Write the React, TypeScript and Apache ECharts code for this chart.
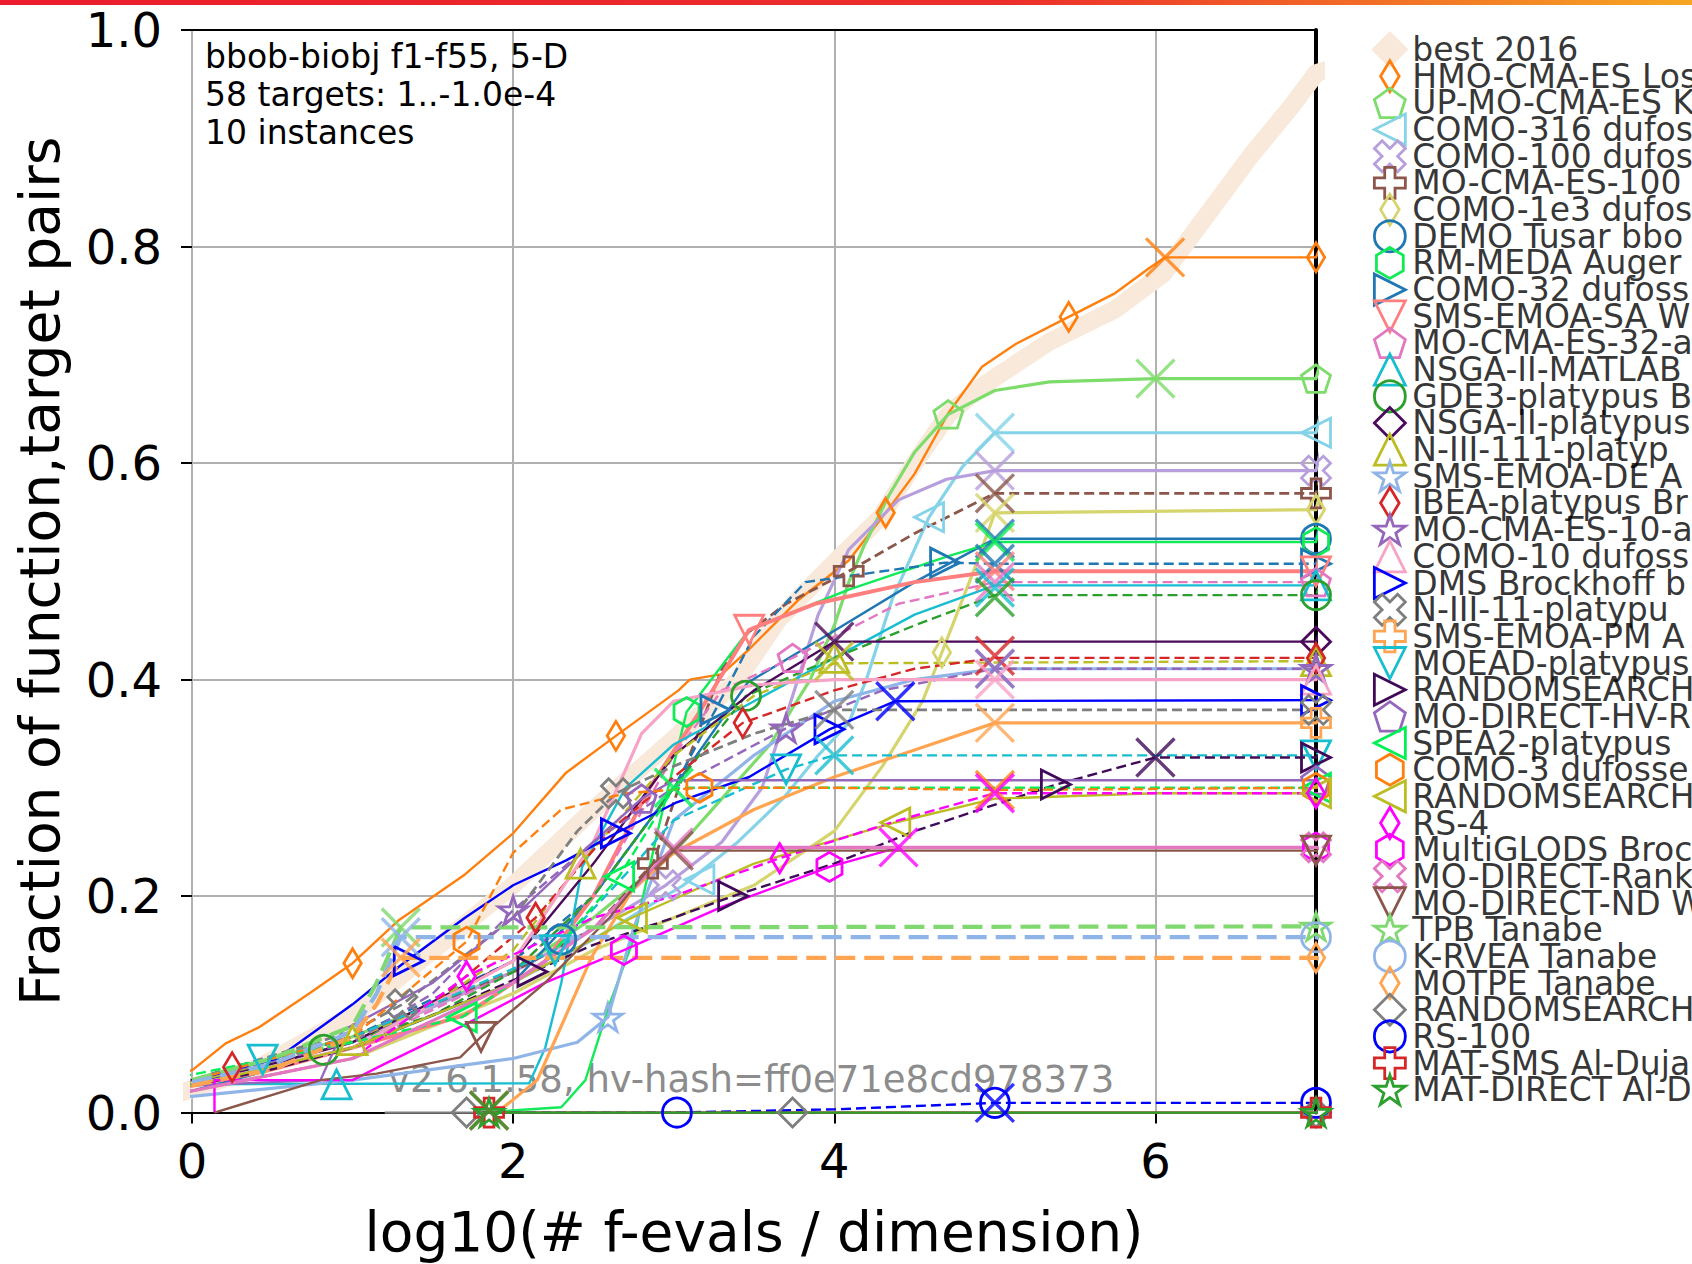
import React, { useEffect, useRef } from "react";
import * as echarts from "echarts";

const W = 1692;
const H = 1264;
const PLOT_L = 192;
const PLOT_R = 1316;
const PLOT_T = 30;
const PLOT_B = 1112.6;
const LEG_X = 7.46;
const LEG_Y0 = 49.6;
const LEG_DY = 26.67;
const FONT = "DejaVu Sans";

const xTicks = [0, 2, 4, 6];

const names = [
  "best 2016", "HMO-CMA-ES Los", "UP-MO-CMA-ES K", "COMO-316 dufos", "COMO-100 dufos",
  "MO-CMA-ES-100", "COMO-1e3 dufos", "DEMO Tusar bbo", "RM-MEDA Auger", "COMO-32 dufoss",
  "SMS-EMOA-SA W", "MO-CMA-ES-32-a", "NSGA-II-MATLAB", "GDE3-platypus B", "NSGA-II-platypus",
  "N-III-111-platyp", "SMS-EMOA-DE A", "IBEA-platypus Br", "MO-CMA-ES-10-a", "COMO-10 dufoss",
  "DMS Brockhoff b", "N-III-11-platypu", "SMS-EMOA-PM A", "MOEAD-platypus", "RANDOMSEARCH",
  "MO-DIRECT-HV-R", "SPEA2-platypus", "COMO-3 dufosse", "RANDOMSEARCH", "RS-4",
  "MultiGLODS Broc", "MO-DIRECT-Rank", "MO-DIRECT-ND W", "TPB Tanabe", "K-RVEA Tanabe",
  "MOTPE Tanabe", "RANDOMSEARCH", "RS-100", "MAT-SMS Al-Duja", "MAT-DIRECT Al-D",
];

// ---------- data (x = log10(#f-evals/dim), y = fraction) ----------
const best2016 = [[-0.75,0.0],[-0.2,0.012],[0.42,0.042],[1.0,0.09],[1.5,0.15],[2.0,0.21],[2.5,0.28],[3.0,0.345],[3.4,0.4],[3.65,0.455],[3.98,0.505],[4.29,0.55],[4.5,0.6],[4.71,0.645],[4.92,0.671],[5.34,0.712],[5.75,0.742],[6.05,0.775],[6.3,0.825],[6.6,0.885],[6.85,0.93],[7.0,0.96]];
const hmo = [[-0.72,0.029],[-0.45,0.029],[-0.45,0.034],[0,0.039],[0.21,0.064],[0.42,0.079],[0.73,0.11],[1.0,0.138],[1.29,0.178],[1.7,0.22],[2.0,0.258],[2.33,0.314],[2.64,0.348],[3.03,0.39],[3.1,0.4],[3.3,0.405],[3.47,0.428],[3.78,0.474],[4.09,0.51],[4.32,0.554],[4.5,0.59],[4.71,0.646],[4.92,0.689],[5.13,0.71],[5.46,0.735],[5.75,0.757],[5.96,0.78],[6.06,0.79],[7.0,0.79]];
const hmoMarks = [[1.0,0.138],[2.64,0.348],[4.32,0.554],[5.46,0.735],[7.0,0.79]];
const upmo = [[-0.72,0.025],[0,0.03],[1,0.07],[2,0.13],[2.5,0.18],[3,0.24],[3.3,0.29],[3.6,0.34],[3.85,0.4],[4.0,0.45],[4.09,0.49],[4.19,0.525],[4.34,0.57],[4.5,0.61],[4.71,0.645],[5.0,0.667],[5.34,0.675],[6.0,0.678],[7,0.678]];
const upmoMarks = [[4.71,0.645],[7,0.678]];
const como316 = [[-0.72,0.02],[0,0.025],[1,0.06],[2,0.12],[2.5,0.16],[3.06,0.21],[3.4,0.25],[3.68,0.29],[3.9,0.33],[4.09,0.36],[4.2,0.4],[4.36,0.474],[4.59,0.55],[4.8,0.597],[5.0,0.628],[7,0.628]];
const como316Marks = [[3.16,0.215],[4.59,0.55],[7,0.628]];
const como100 = [[-0.72,0.02],[0,0.025],[1,0.065],[2,0.13],[2.5,0.17],[2.95,0.21],[3.3,0.25],[3.55,0.3],[3.73,0.38],[3.9,0.46],[4.09,0.52],[4.4,0.566],[4.7,0.585],[5.0,0.593],[7,0.593]];
const como100Marks = [[2.95,0.21],[7,0.593]];
const mocma100 = [[-0.72,0.02],[0,0.028],[1,0.07],[2,0.13],[2.5,0.17],[2.87,0.23],[3.1,0.33],[3.3,0.41],[3.46,0.443],[3.7,0.47],[4.09,0.5],[4.5,0.535],[5.0,0.572],[7,0.572]];
const mocma100Marks = [[2.87,0.23],[4.09,0.5],[7,0.572]];
const como1e3 = [[-0.72,0.015],[0,0.02],[1,0.05],[2,0.11],[2.5,0.15],[3,0.18],[3.5,0.21],[4.0,0.26],[4.3,0.32],[4.55,0.38],[4.67,0.425],[4.88,0.505],[5.0,0.554],[7,0.557]];
const como1e3Marks = [[4.67,0.425],[7,0.557]];
const demo = [[-0.72,0.002],[-0.4,0.002],[-0.4,0.012],[0,0.02],[1,0.06],[2,0.12],[2.5,0.2],[3,0.3],[3.46,0.397],[4.0,0.445],[4.5,0.49],[5.0,0.53],[7,0.53]];
const demoMarks = [[2.3,0.16],[7,0.53]];
const rmmeda = [[1.8,0.0],[2.3,0.005],[2.45,0.03],[2.6,0.1],[2.75,0.16],[2.9,0.26],[3.08,0.37],[3.47,0.446],[4.09,0.483],[4.71,0.514],[5.0,0.527],[7,0.527]];
const rmmedaMarks = [[3.08,0.37],[7,0.527]];
const como32 = [[-0.72,0.02],[0,0.025],[1,0.07],[2,0.14],[2.5,0.2],[3,0.3],[3.26,0.372],[3.5,0.44],[3.82,0.49],[4.3,0.5],[4.69,0.508],[5.0,0.507],[7,0.507]];
const como32Marks = [[3.26,0.372],[4.69,0.508],[7,0.507]];
const smssa = [[-0.72,0.02],[0,0.025],[0.5,0.04],[1,0.06],[1.7,0.09],[2.2,0.14],[2.5,0.2],[2.85,0.3],[3.16,0.37],[3.47,0.446],[3.88,0.47],[4.5,0.49],[5.0,0.5],[7,0.5]];
const smssaMarks = [[3.47,0.446],[7,0.5]];
const mocma32 = [[-0.72,0.018],[0,0.025],[1,0.06],[2,0.13],[2.5,0.2],[3,0.33],[3.3,0.39],[3.74,0.42],[4.4,0.47],[5.0,0.49],[7,0.49]];
const mocma32Marks = [[3.74,0.42],[7,0.49]];
const nsgaMatlab = [[-0.72,0.026],[2.1,0.027],[2.2,0.06],[2.3,0.12],[2.43,0.227],[2.7,0.3],[3,0.34],[3.5,0.38],[4,0.42],[4.5,0.46],[5.0,0.487],[7,0.487]];
const nsgaMatlabMarks = [[0.9,0.026],[7,0.487]];
const gde3 = [[-0.72,0.025],[0,0.03],[0.82,0.058],[1.5,0.09],[2,0.13],[2.5,0.2],[3,0.3],[3.45,0.385],[4,0.42],[4.5,0.45],[5.0,0.478],[7,0.478]];
const gde3Marks = [[0.82,0.058],[3.45,0.385],[7,0.478]];
const nsgaPlat = [[-0.72,0.02],[0,0.025],[1,0.065],[2,0.14],[2.5,0.23],[3,0.33],[3.5,0.39],[4.0,0.435],[7,0.435]];
const nsgaPlatMarks = [[7,0.435]];
const n111 = [[-0.72,0.02],[0,0.028],[1,0.067],[1.5,0.1],[2,0.15],[2.42,0.23],[3,0.33],[3.5,0.385],[4.0,0.415],[7,0.417]];
const n111Marks = [[1.0,0.067],[2.42,0.23],[4.0,0.42],[7,0.417]];
const smsde = [[-0.72,0.01],[0,0.015],[1,0.03],[2,0.05],[2.4,0.065],[2.59,0.088],[2.75,0.17],[3,0.27],[3.5,0.33],[4,0.38],[4.5,0.4],[5.0,0.41],[7,0.41]];
const smsdeMarks = [[2.59,0.088],[7,0.41]];
const ibea = [[-0.72,0.02],[0,0.03],[0.25,0.042],[1,0.07],[1.5,0.1],[2.14,0.18],[2.6,0.26],[3,0.31],[3.43,0.36],[4,0.39],[4.5,0.41],[5.0,0.42],[7,0.42]];
const ibeaMarks = [[0.25,0.042],[2.14,0.18],[3.43,0.36],[7,0.42]];
const mocma10 = [[-0.72,0.02],[0,0.03],[1,0.065],[1.5,0.11],[2.0,0.187],[2.5,0.25],[3,0.3],[3.7,0.355],[4.3,0.39],[5.0,0.41],[7,0.41]];
const mocma10Marks = [[2.0,0.187],[3.7,0.355],[7,0.41]];
const como10 = [[-0.72,0.02],[0,0.025],[1,0.06],[2,0.14],[2.5,0.25],[2.8,0.35],[3,0.38],[3.5,0.395],[4,0.4],[5,0.4],[7,0.4]];
const como10Marks = [[7,0.4]];
const dms = [[-0.72,0.02],[0,0.03],[0.53,0.05],[1.0,0.1],[1.29,0.135],[1.7,0.18],[2.0,0.21],[2.33,0.233],[2.64,0.258],[3.01,0.286],[3.47,0.31],[3.97,0.354],[4.38,0.38],[7,0.381]];
const dmsMarks = [[1.35,0.14],[2.64,0.258],[3.97,0.354],[7,0.381]];
const n11 = [[-0.72,0.02],[0,0.03],[1,0.075],[1.31,0.1],[2,0.18],[2.4,0.26],[2.64,0.295],[3,0.32],[3.5,0.35],[4.0,0.372],[7,0.372]];
const n11Marks = [[1.31,0.1],[2.64,0.295],[7,0.372]];
const smspm = [[1.9,0.0],[2.15,0.03],[2.3,0.08],[2.49,0.144],[2.74,0.205],[3,0.24],[3.5,0.28],[4,0.31],[4.5,0.335],[5.0,0.36],[7,0.36]];
const smspmMarks = [[7,0.36]];
const moead = [[-0.72,0.02],[0,0.03],[0.44,0.049],[1,0.07],[1.5,0.1],[2.26,0.15],[2.7,0.22],[3,0.27],[3.7,0.317],[4.0,0.33],[7,0.33]];
const moeadMarks = [[0.44,0.049],[2.26,0.15],[3.7,0.317],[7,0.33]];
const rs1 = [[-0.72,0.02],[0,0.025],[0.5,0.04],[1,0.06],[1.5,0.09],[2.12,0.13],[2.5,0.155],[3,0.18],[3.37,0.2],[4,0.23],[4.5,0.26],[5.38,0.303],[6.0,0.328],[7,0.328]];
const rs1Marks = [[2.12,0.13],[3.37,0.2],[5.38,0.303],[7,0.328]];
const modirHv = [[-0.72,0.02],[0,0.025],[0.8,0.03],[0.94,0.076],[1.5,0.12],[2,0.18],[2.5,0.25],[2.8,0.29],[3.0,0.307],[7,0.307]];
const modirHvMarks = [[2.8,0.29],[7,0.307]];
const spea2 = [[-0.72,0.028],[0,0.035],[0.5,0.05],[1,0.065],[1.68,0.088],[2.2,0.14],[2.66,0.218],[3.0,0.3],[7,0.3]];
const spea2Marks = [[1.68,0.088],[2.66,0.218],[7,0.3]];
const como3 = [[-0.72,0.02],[0,0.03],[1,0.07],[1.71,0.158],[2.0,0.24],[2.3,0.28],[2.7,0.295],[3.16,0.3],[4,0.3],[5.0,0.298],[7,0.3]];
const como3Marks = [[1.71,0.158],[3.16,0.3],[7,0.3]];
const rs2 = [[-0.72,0.02],[0,0.025],[1,0.06],[2,0.12],[2.74,0.18],[3.5,0.23],[4.38,0.268],[5,0.29],[6,0.295],[7,0.295]];
const rs2Marks = [[2.74,0.18],[4.38,0.268],[7,0.295]];
const rs4 = [[-0.72,0.012],[-0.43,0.012],[-0.43,0.019],[0,0.02],[1,0.05],[1.71,0.126],[2.5,0.18],[3,0.2],[3.66,0.235],[4.4,0.27],[5.0,0.295],[7,0.295]];
const rs4Marks = [[1.71,0.126],[3.66,0.235],[7,0.295]];
const multiglods = [[0.14,0.0],[0.14,0.03],[1.0,0.03],[1.2,0.045],[1.67,0.079],[2.2,0.12],[2.69,0.15],[3.3,0.19],[3.97,0.227],[4.4,0.245],[7,0.245]];
const multiglodsMarks = [[2.69,0.15],[3.97,0.227],[7,0.245]];
const modirRank = [[-0.72,0.01],[0,0.02],[1,0.05],[2,0.12],[2.5,0.17],[3.0,0.245],[7,0.245]];
const modirRankMarks = [[7,0.245]];
const modirNd = [[0.14,0.0],[0.8,0.03],[1.15,0.036],[1.67,0.051],[1.8,0.07],[2.2,0.12],[2.6,0.18],[2.87,0.23],[3.0,0.242],[7,0.242]];
const modirNdMarks = [[1.8,0.07],[7,0.242]];
const tpb = [[-0.72,0.025],[0,0.03],[0.5,0.05],[1,0.08],[1.15,0.12],[1.3,0.171],[7,0.172]];
const tpbMarks = [[7,0.172]];
const krvea = [[-0.72,0.02],[0,0.028],[0.5,0.045],[1,0.075],[1.15,0.11],[1.3,0.162],[7,0.162]];
const krveaMarks = [[7,0.162]];
const motpe = [[-0.72,0.015],[0,0.025],[0.5,0.04],[1,0.07],[1.15,0.1],[1.3,0.143],[7,0.143]];
const motpeMarks = [[7,0.143]];
const rs3 = [[1.2,0.0],[7,0.0]];
const rs3Marks = [[1.71,0.0],[3.74,0.0],[7,0.0]];
const rs100 = [[1.8,0.0],[3.0,0.0],[4.0,0.003],[5.0,0.009],[7,0.009]];
const rs100Marks = [[3.02,0.0],[5.0,0.009],[7,0.009]];
const matSms = [[1.8,0.0],[7,0.0]];
const matSmsMarks = [[1.85,0.0],[7,0.0]];
const matDirect = [[1.8,0.0],[7,0.0]];
const matDirectMarks = [[1.85,0.0],[7,0.0]];

const curves = [best2016, hmo, upmo, como316, como100, mocma100, como1e3, demo, rmmeda, como32,
  smssa, mocma32, nsgaMatlab, gde3, nsgaPlat, n111, smsde, ibea, mocma10, como10,
  dms, n11, smspm, moead, rs1, modirHv, spea2, como3, rs2, rs4,
  multiglods, modirRank, modirNd, tpb, krvea, motpe, rs3, rs100, matSms, matDirect];
const marks = [[], hmoMarks, upmoMarks, como316Marks, como100Marks, mocma100Marks, como1e3Marks, demoMarks, rmmedaMarks, como32Marks,
  smssaMarks, mocma32Marks, nsgaMatlabMarks, gde3Marks, nsgaPlatMarks, n111Marks, smsdeMarks, ibeaMarks, mocma10Marks, como10Marks,
  dmsMarks, n11Marks, smspmMarks, moeadMarks, rs1Marks, modirHvMarks, spea2Marks, como3Marks, rs2Marks, rs4Marks,
  multiglodsMarks, modirRankMarks, modirNdMarks, tpbMarks, krveaMarks, motpeMarks, rs3Marks, rs100Marks, matSmsMarks, matDirectMarks];
// end-of-budget crosses
const budgetEnds: (number[] | null)[] = [null, [6.06,0.79], [6.0,0.678], [5.0,0.628], [5.0,0.593], [5.0,0.572], [5.0,0.554], [5.0,0.53], [5.0,0.527], [5.0,0.507],
  [5.0,0.5], [5.0,0.49], [5.0,0.485], [5.0,0.476], [4.0,0.435], [4.0,0.417], [5.0,0.41], [5.0,0.422], [5.0,0.41], [5.0,0.4],
  [4.38,0.38], [4.0,0.372], [5.0,0.36], [4.0,0.33], [6.0,0.328], null, [3.0,0.3], [5.0,0.298], null, [5.0,0.295],
  [4.4,0.245], [3.0,0.245], [3.0,0.242], [1.3,0.171], [1.3,0.162], [1.3,0.143], null, [5.0,0.009], [1.85,0.002], [1.85,0.002]];

// ---------- styles ----------
const colors = ["#f8e9da", "#ff7f0e", "#7ddc6a", "#84d3e8", "#b69fdc", "#8c564b", "#d6d46c", "#1f77b4", "#12ea58", "#1f77b4",
  "#ff7f7f", "#e377c2", "#17becf", "#2ca02c", "#4b0a5a", "#bcbd22", "#8fb4e8", "#d62728", "#9467bd", "#f7a3c6",
  "#0000ff", "#7f7f7f", "#ffa552", "#17becf", "#3f0a57", "#9467bd", "#00f055", "#ff7f0e", "#bcbd22", "#ff00ff",
  "#ff00ff", "#e377c2", "#8c564b", "#7fd870", "#8fb4e8", "#ffa552", "#7f7f7f", "#0000ff", "#d62728", "#2ca02c"];
const symbolKeys = ["D", "d", "p", "<", "X", "P", "d", "o", "h", ">", "v", "p", "^", "o", "D", "^", "*", "d", "*", "^",
  ">", "X", "P", "v", ">", "p", "<", "h", "<", "d", "h", "X", "v", "*", "o", "d", "D", "o", "P", "*"];
const dashed = [0,0,0,0,0,1,0,0,0,1, 0,1,0,1,0,1,0,1,1,0, 0,1,0,1,1,0,1,1,0,1, 0,0,0,1,1,1,0,1,0,0];
const widths = [18,2.4,3.2,3.2,3.2,2.8,3.2,2.4,2.4,2.4, 4,2.4,2.4,2.4,2.4,2.4,3.2,2.4,2.4,3.2, 2.4,2.8,3.2,2.4,2.4,2.4,2.4,2.4,2.4,2.4, 2.4,3.2,2.4,4.2,4.2,4.2,2.4,2.4,2.4,2.4];

const SYM: Record<string, string> = {
  D: "path://M0,-10L10,0L0,10L-10,0Z",
  d: "path://M0,-10L6,0L0,10L-6,0Z",
  p: "path://M0,-10L9.51,-3.09L5.88,8.09L-5.88,8.09L-9.51,-3.09Z",
  h: "path://M0,-10L8.66,-5L8.66,5L0,10L-8.66,5L-8.66,-5Z",
  "^": "path://M0,-10L10,10L-10,10Z",
  v: "path://M0,10L10,-10L-10,-10Z",
  "<": "path://M-10,0L10,-10L10,10Z",
  ">": "path://M10,0L-10,-10L-10,10Z",
  "*": "path://M0,-10L2.25,-3.09L9.51,-3.09L3.63,1.18L5.88,8.09L0,3.82L-5.88,8.09L-3.63,1.18L-9.51,-3.09L-2.25,-3.09Z",
  P: "path://M-3.33,-10L3.33,-10L3.33,-3.33L10,-3.33L10,3.33L3.33,3.33L3.33,10L-3.33,10L-3.33,3.33L-10,3.33L-10,-3.33L-3.33,-3.33Z",
  X: "path://M4.72,-9.43L9.43,-4.72L4.71,0L9.43,4.72L4.72,9.43L0,4.71L-4.72,9.43L-9.43,4.72L-4.71,0L-9.43,-4.72L-4.72,-9.43L0,-4.71Z",
  o: "circle",
  x: "path://M-10,-10L10,10M10,-10L-10,10",
};

const rowY = (i: number) => (PLOT_B - (LEG_Y0 + i * LEG_DY)) / (PLOT_B - PLOT_T);

function buildOption() {
  const series: any[] = [];
  curves.forEach((pts, i) => {
    const ly = rowY(i);
    const w = widths[i];
    const dash = dashed[i] ? (w >= 4 ? [20, 9] : [10, 5]) : "solid";
    series.push({
      type: "line",
      data: [...pts, [LEG_X, ly]],
      showSymbol: false,
      symbol: "none",
      clip: false,
      silent: true,
      z: i === 0 ? 1 : 2,
      lineStyle: { color: colors[i], width: w, type: dash, cap: i === 0 ? "round" : "butt", join: "round", opacity: 1 },
    });
  });
  curves.forEach((_, i) => {
    const ly = rowY(i);
    const isBest = i === 0;
    const items: any[] = marks[i].map((p) => ({ value: p }));
    items.push({ value: [LEG_X, ly], symbolSize: isBest ? 36 : 31 });
    series.push({
      type: "scatter",
      data: items,
      symbol: SYM[symbolKeys[i]],
      symbolSize: 29,
      symbolKeepAspect: true,
      clip: false,
      silent: true,
      z: 4,
      itemStyle: isBest
        ? { color: colors[i], borderColor: colors[i], borderWidth: 1, opacity: 1 }
        : { color: "rgba(0,0,0,0)", borderColor: colors[i], borderWidth: 2.8, opacity: 1 },
    });
  });
  // legend labels, one per algorithm row
  series.push({
    type: "scatter",
    data: names.map((n, i) => ({ value: [LEG_X, rowY(i)], name: n })),
    symbol: "circle",
    symbolSize: 1,
    clip: false,
    silent: true,
    z: 6,
    itemStyle: { color: "rgba(0,0,0,0)" },
    label: {
      show: true, position: "right", distance: 22, formatter: (p: any) => p.name,
      fontSize: 33, fontFamily: FONT, color: "#000", lineHeight: 26, verticalAlign: "middle",
    },
  });
  const ends: any[] = [];
  budgetEnds.forEach((p, i) => {
    if (p) ends.push({ value: p, itemStyle: { borderColor: colors[i] } });
  });
  series.push({
    type: "scatter",
    data: ends,
    symbol: SYM.x,
    symbolSize: 38,
    clip: false,
    silent: true,
    z: 5,
    itemStyle: { color: "rgba(0,0,0,0)", borderWidth: 3.4 },
  });

  return {
    animation: false,
    backgroundColor: "#ffffff",
    textStyle: { fontFamily: FONT },
    grid: { left: PLOT_L, right: W - PLOT_R, top: PLOT_T, bottom: H - PLOT_B, containLabel: false, outerBoundsMode: "none" },
    xAxis: [
      {
        type: "value", min: 0, max: 7, interval: 1, position: "bottom",
        axisLine: { show: true, onZero: false, lineStyle: { color: "#000", width: 2 } },
        axisTick: { show: true, length: 11, customValues: xTicks, lineStyle: { color: "#000", width: 2 } },
        axisLabel: { customValues: xTicks, fontSize: 48, fontFamily: FONT, color: "#000", margin: 24, formatter: (v: number) => String(v) },
        splitLine: { show: true, lineStyle: { color: "#b0b0b0", width: 2 } },
        name: "log10(# f-evals / dimension)", nameLocation: "middle", nameGap: 92,
        nameTextStyle: { fontSize: 55, fontFamily: FONT, color: "#000" },
      },
      {
        type: "value", min: 0, max: 7, position: "top",
        axisLine: { show: true, onZero: false, lineStyle: { color: "#000", width: 2 } },
        axisTick: { show: false }, axisLabel: { show: false }, splitLine: { show: false },
      },
    ],
    yAxis: [
      {
        type: "value", min: 0, max: 1, interval: 0.2, position: "left",
        axisLine: { show: false, onZero: false },
        axisTick: { show: true, length: 11, lineStyle: { color: "#000", width: 2 } },
        axisLabel: { fontSize: 48, fontFamily: FONT, color: "#000", margin: 30, formatter: (v: number) => v.toFixed(1) },
        splitLine: { show: true, lineStyle: { color: "#b0b0b0", width: 2 } },
        name: "Fraction of function,target pairs", nameLocation: "middle", nameGap: 125,
        nameTextStyle: { fontSize: 55, fontFamily: FONT, color: "#000" },
      },
      {
        type: "value", min: 0, max: 1, position: "right",
        axisLine: { show: true, onZero: false, lineStyle: { color: "#000", width: 4 } },
        axisTick: { show: false }, axisLabel: { show: false }, splitLine: { show: false },
      },
    ],
    graphic: [
      {
        type: "rect", left: 0, top: 0, z: 10,
        shape: { x: 0, y: 0, width: W, height: 5 },
        style: {
          fill: new echarts.graphic.LinearGradient(0, 0, 1, 0, [
            { offset: 0, color: "#eb1c2d" },
            { offset: 0.6, color: "#ec2f2b" },
            { offset: 1, color: "#f6a623" },
          ]),
        },
      },
      {
        type: "text", x: 205, y: 37, z: 10,
        style: {
          text: "bbob-biobj f1-f55, 5-D\n58 targets: 1..-1.0e-4\n10 instances",
          font: `33px '${FONT}'`, lineHeight: 38, fill: "#000", verticalAlign: "top",
        },
      },
      {
        type: "text", x: 388, y: 1079, z: 0,
        style: {
          text: "v2.6.1.58, hv-hash=ff0e71e8cd978373",
          font: `37px '${FONT}'`, fill: "#8c8c8c", verticalAlign: "middle",
        },
      },
    ],
    series,
  };
}

export default function App() {
  const ref = useRef<HTMLDivElement>(null);
  useEffect(() => {
    if (!ref.current) return;
    const chart = echarts.init(ref.current, undefined, { renderer: "svg", width: W, height: H });
    chart.setOption(buildOption() as any);
    return () => chart.dispose();
  }, []);
  return <div ref={ref} style={{ position: "absolute", left: 0, top: 0, width: W, height: H, background: "#fff" }} />;
}
